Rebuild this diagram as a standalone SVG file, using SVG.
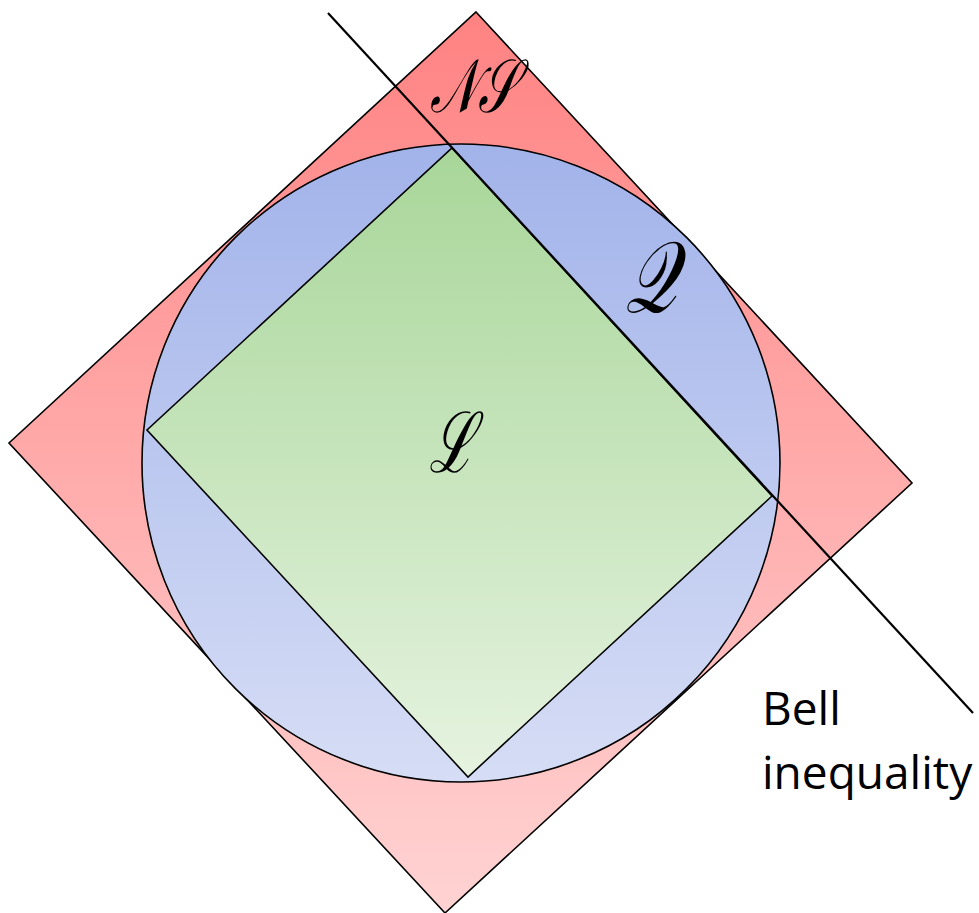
<svg xmlns="http://www.w3.org/2000/svg" width="979" height="913" viewBox="0 0 979 913">
<defs>
<linearGradient id="gr" x1="0" y1="0" x2="0" y2="1"><stop offset="0" stop-color="#ff8282"/><stop offset="1" stop-color="#ffd3d3"/></linearGradient>
<linearGradient id="gb" x1="0" y1="0" x2="0" y2="1"><stop offset="0" stop-color="#a2b3ea"/><stop offset="1" stop-color="#d6ddf5"/></linearGradient>
<linearGradient id="gg" x1="0" y1="0" x2="0" y2="1"><stop offset="0" stop-color="#a8d699"/><stop offset="1" stop-color="#e6f3e0"/></linearGradient>
<style>
.s{stroke:#000;stroke-width:1.6;stroke-linejoin:miter}
.c{stroke:#000;stroke-width:2.2;fill:none}
.m{font-family:"DejaVu Serif","Liberation Serif",serif;font-style:italic;font-weight:normal;fill:#000}
.t{font-family:"Open Sans","Liberation Sans",sans-serif;font-size:46px;fill:#000}
</style>
</defs>
<g id="ns"><polygon class="s" fill="url(#gr)" points="476,12 912,483 445,913 9,443"/><text class="m" transform="translate(473,112) scale(1,1.5)" font-size="50" text-anchor="middle">𝒩𝒮</text></g>
<g id="q"><circle class="s" fill="url(#gb)" cx="461" cy="463" r="319"/><text class="m" transform="translate(651,312) scale(1,1.4)" font-size="72" text-anchor="middle">𝒬</text></g>
<g id="l"><polygon class="s" fill="url(#gg)" points="452,148 772,496 468,777 147,430"/><text class="m" transform="translate(452,472) scale(1,1.5)" font-size="56" text-anchor="middle">ℒ</text></g>
<g id="connectors"><line class="c" x1="328" y1="13" x2="973" y2="713"/></g>
<g id="bell"><text class="t" x="762" y="725">Bell</text><text class="t" x="762" y="789">inequality</text></g>
</svg>
